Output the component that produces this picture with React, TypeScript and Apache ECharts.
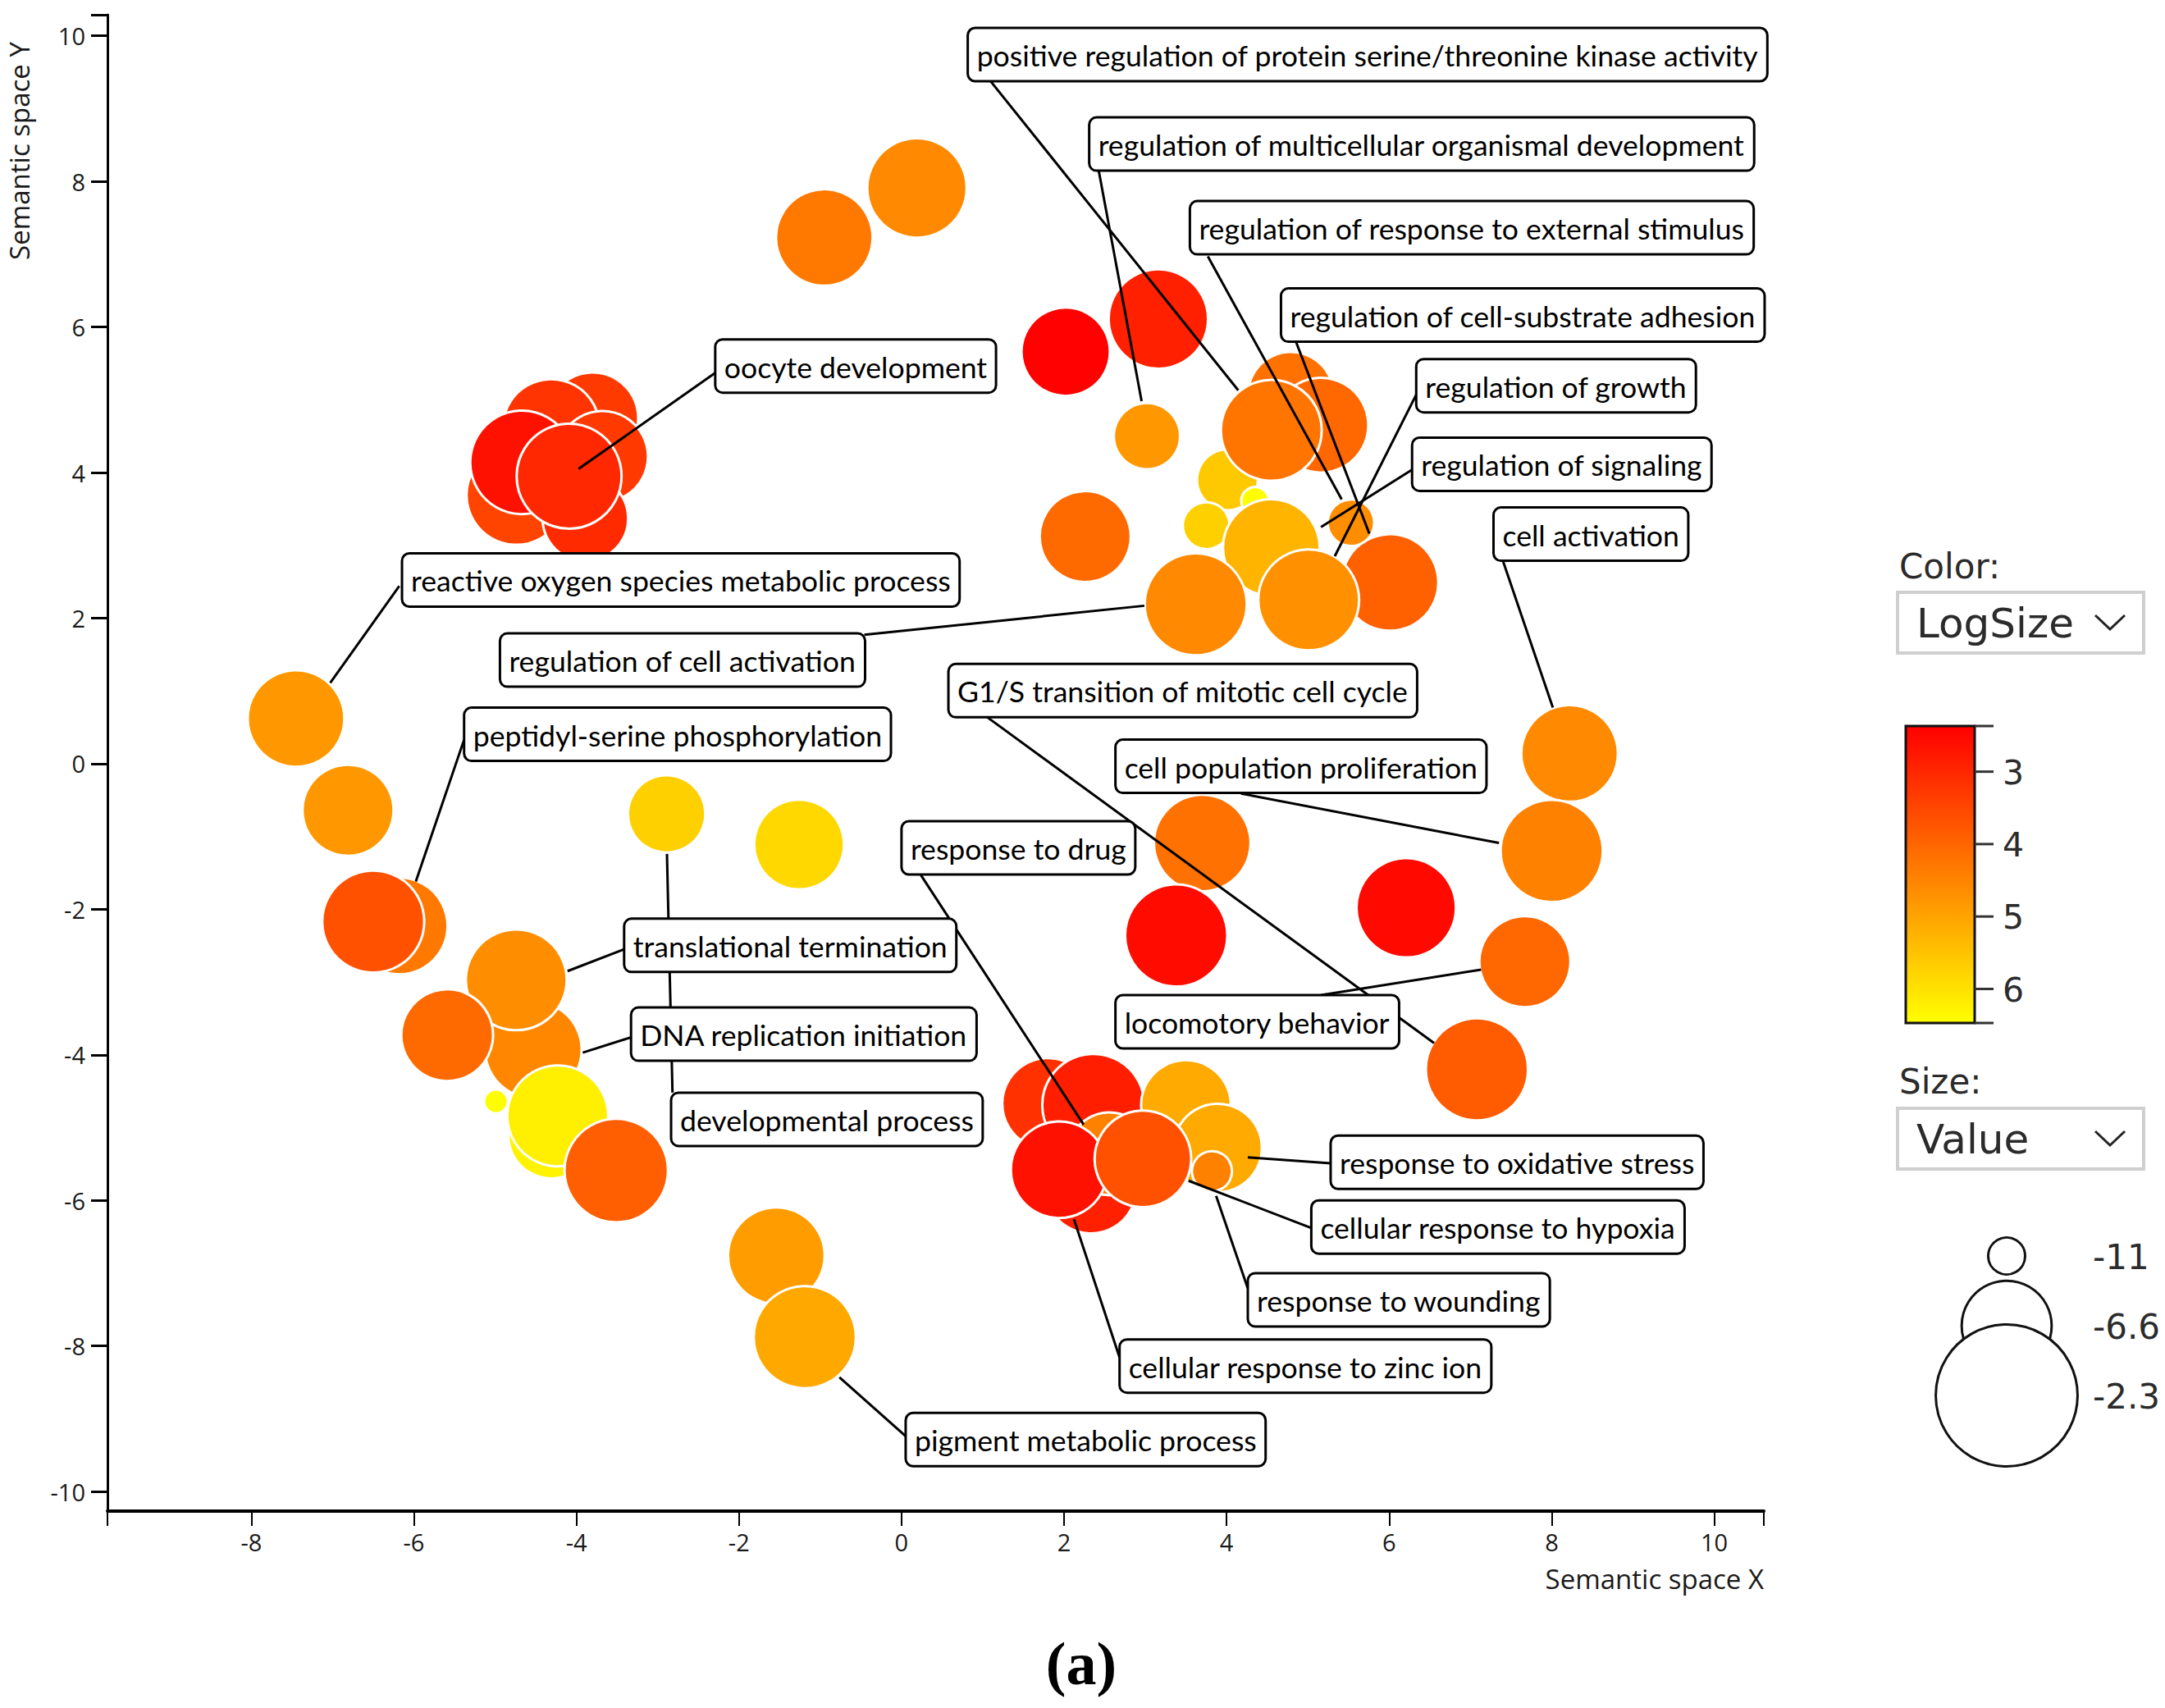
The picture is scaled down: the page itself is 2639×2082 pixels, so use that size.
import React, { useEffect, useRef } from "react";
import * as echarts from "echarts";

// ---- bubble data (semantic space X/Y, Value = size, LogSize = color) ----
const goX = [
  -0.95, 0.19, 2.02, 3.16, 3.02, 2.26,
  4.79, 5.16, 4.01, 4.35, 3.75, 4.55, 4.55, 6.01, 5.53, 3.62, 5.01,
  -3.8, -4.31, -3.68, -4.74, -3.89, -4.67, -4.09,
  -7.45, -6.81, -6.18, -6.5, -4.53, -4.74, -5.59, -4.31, -4.99, -4.23, -3.51, -2.89, -1.26, -1.54, -1.19,
  2.33, 1.8, 2.36, 3.5, 3.89, 2.56, 3.82, 1.94, 2.97,
  8.22, 8.0, 7.67, 7.08, 6.21, 3.7, 3.38,
];
const goY = [
  7.23, 7.91, 5.66, 6.11, 4.5, 3.12,
  5.07, 4.65, 3.9, 3.61, 3.27, 4.58, 2.97, 2.49, 3.31, 2.19, 2.25,
  4.75, 4.62, 4.22, 3.69, 3.37, 4.14, 3.95,
  0.62, -0.64, -2.23, -2.17, -3.93, -2.97, -3.73, -5.11, -4.64, -4.84, -5.59, -0.69, -1.11, -6.76, -7.88,
  -5.83, -4.67, -4.69, -4.69, -5.28, -5.36, -5.6, -5.58, -5.43,
  0.14, -1.2, -2.72, -4.2, -1.98, -1.09, -2.36,
];
const goValue = [
  -6.05, -5.82, -6.73, -5.82, -8.57, -6.51,
  -6.96, -6.2, -9.02, -11.77, -10.17, -5.7, -6.05, -6.05, -10.2, -5.6, -5.7,
  -6.51, -6.05, -6.51, -5.82, -6.96, -5.48, -5.36,
  -6.05, -6.51, -6.05, -5.6, -6.05, -5.7, -6.45, -6.96, -12.09, -5.7, -5.48, -7.65, -6.62, -6.05, -5.59,
  -6.51, -6.51, -5.59, -6.62, -6.73, -7.19, -10.74, -6.05, -6.05,
  -6.05, -5.59, -6.51, -5.59, -5.82, -6.05, -5.59,
];
const goLogSize = [
  4.31, 4.57, 2.4, 2.89, 4.82, 4.08,
  4.18, 4.02, 5.6, 6.45, 5.72, 4.25, 5.27, 3.92, 4.63, 4.57, 4.7,
  3.31, 3.2, 3.28, 3.47, 3.05, 2.64, 3.02,
  4.82, 4.79, 4.31, 3.67, 4.54, 4.63, 4.08, 6.27, 6.45, 6.21, 3.89, 5.72, 5.85, 4.89, 5.08,
  2.89, 3.15, 2.86, 5.11, 5.11, 4.44, 4.44, 2.64, 3.67,
  4.57, 4.44, 4.02, 3.83, 2.51, 4.18, 2.54,
];

// ---- axes / legend ticks ----
const xTicks = [-8, -6, -4, -2, 0, 2, 4, 6, 8, 10];
const yTicks = [-10, -8, -6, -4, -2, 0, 2, 4, 6, 8, 10];
const xRange = [-9.77, 10.61];
const yRange = [-10.27, 10.29];
const colorTicks = [3, 4, 5, 6];
const colorRange = [2.37, 6.47];
const sizeLegendValues = [-11, -6.6, -2.3];

// ---- annotation labels ----
const labelText = [
  "positive regulation of protein serine/threonine kinase activity",
  "regulation of multicellular organismal development",
  "regulation of response to external stimulus",
  "regulation of cell-substrate adhesion",
  "regulation of growth",
  "regulation of signaling",
  "cell activation",
  "oocyte development",
  "reactive oxygen species metabolic process",
  "regulation of cell activation",
  "G1/S transition of mitotic cell cycle",
  "peptidyl-serine phosphorylation",
  "cell population proliferation",
  "response to drug",
  "translational termination",
  "DNA replication initiation",
  "developmental process",
  "locomotory behavior",
  "response to oxidative stress",
  "cellular response to hypoxia",
  "response to wounding",
  "cellular response to zinc ion",
  "pigment metabolic process",
];
// layout: box top-left corner, leader line start and end (in semantic space)
const labelLayout = [
  [0.815, 10.11, 1.087, 9.39, 4.143, 5.13],
  [2.309, 8.88, 2.428, 8.14, 2.954, 4.98],
  [3.548, 7.73, 3.769, 6.97, 5.416, 3.63],
  [4.669, 6.53, 4.856, 5.79, 5.756, 3.16],
  [6.333, 5.56, 6.333, 5.07, 5.331, 2.85],
  [6.282, 4.48, 6.299, 4.05, 5.161, 3.25],
  [7.284, 3.52, 7.402, 2.78, 8.014, 0.77],
  [-2.292, 5.83, -2.292, 5.37, -3.973, 4.05],
  [-6.146, 2.89, -6.18, 2.44, -7.029, 1.11],
  [-4.941, 1.79, -0.458, 1.77, 2.988, 2.17],
  [0.577, 1.37, 1.053, 0.64, 6.553, -3.84],
  [-5.382, 0.77, -5.382, 0.33, -5.976, -1.62],
  [2.632, 0.33, 4.177, -0.41, 7.351, -1.09],
  [0.0, -0.79, 0.238, -1.53, 2.241, -4.96],
  [-3.413, -2.13, -3.413, -2.55, -4.109, -2.85],
  [-3.328, -3.35, -3.328, -3.76, -3.922, -3.97],
  [-2.835, -4.52, -2.818, -4.52, -2.886, -1.24],
  [2.632, -3.18, 5.161, -3.18, 7.131, -2.83],
  [5.28, -5.11, 5.28, -5.49, 4.261, -5.41],
  [5.042, -6.0, 5.042, -6.38, 3.531, -5.73],
  [4.261, -7.0, 4.261, -7.21, 3.871, -5.94],
  [2.683, -7.91, 2.683, -8.16, 2.122, -6.26],
  [0.051, -8.92, 0.051, -9.24, -0.764, -8.43],
];

const sizeOf = (v: number) => 45 + (v + 11) * 14.7;
const LABEL_FONT = "Lato";
const AXIS_FONT = "Open Sans";
const LEGEND_FONT = "DejaVu Sans";

function measure(text: string, font: string) {
  const c = document.createElement("canvas").getContext("2d")!;
  c.font = font;
  return c.measureText(text).width;
}

export default function App() {
  const ref = useRef<HTMLDivElement>(null);
  useEffect(() => {
    const chart = echarts.init(ref.current!, null, { renderer: "svg" });
    const data = goX.map((x, i) => [x, goY[i], goValue[i], goLogSize[i]]);
    const gridLeft = 131, gridTop = 18, gridW = 2019, gridH = 1824;
    chart.setOption({
      animation: false,
      backgroundColor: "#fff",
      grid: { left: gridLeft, top: gridTop, width: gridW, height: gridH },
      xAxis: {
        type: "value",
        min: xRange[0],
        max: xRange[1],
        splitLine: { show: false },
        axisLine: { show: true, onZero: false, lineStyle: { color: "#000", width: 4 } },
        axisTick: {
          show: true,
          customValues: [xRange[0], ...xTicks, xRange[1]],
          length: 18,
          lineStyle: { color: "#000", width: 2 },
        },
        axisLabel: {
          customValues: xTicks,
          fontSize: 29,
          fontFamily: AXIS_FONT,
          color: "#1a1a1a",
          margin: 23,
        },
      },
      yAxis: {
        type: "value",
        min: yRange[0],
        max: yRange[1],
        splitLine: { show: false },
        axisLine: { show: true, onZero: false, lineStyle: { color: "#000", width: 3 } },
        axisTick: {
          show: true,
          customValues: [...yTicks, yRange[1]],
          length: 20,
          lineStyle: { color: "#000", width: 3 },
        },
        axisLabel: {
          customValues: yTicks,
          fontSize: 29,
          fontFamily: AXIS_FONT,
          color: "#1a1a1a",
          margin: 27,
        },
      },
      visualMap: {
        show: false,
        type: "continuous",
        dimension: 3,
        min: colorRange[0],
        max: colorRange[1],
        inRange: { color: ["#ff0000", "#ffff00"] },
        seriesIndex: 0,
      },
      series: [
        {
          type: "scatter",
          data,
          symbol: "circle",
          symbolSize: (d: number[]) => sizeOf(d[2]),
          itemStyle: { borderColor: "#fff", borderWidth: 3, opacity: 1 },
          z: 2,
        },
      ],
    });

    const toPx = (x: number, y: number) =>
      chart.convertToPixel({ gridIndex: 0 } as any, [x, y]) as number[];

    const longest = labelText[0];
    const labelFontSize = (953 / measure(longest, `100px ${LABEL_FONT}`)) * 100;
    const boxH = 65;
    const padX = 11;

    const g: any[] = [];
    // leader lines
    labelLayout.forEach((l) => {
      const a = toPx(l[2], l[3]);
      const b = toPx(l[4], l[5]);
      g.push({
        type: "line",
        shape: { x1: a[0], y1: a[1], x2: b[0], y2: b[1] },
        style: { stroke: "#000", lineWidth: 3 },
        z: 100,
      });
    });
    // boxes and texts
    labelLayout.forEach((l, i) => {
      const p = toPx(l[0], l[1]);
      const w = measure(labelText[i], `${labelFontSize}px ${LABEL_FONT}`) + padX * 2;
      g.push({
        type: "rect",
        shape: { x: p[0], y: p[1], width: w, height: boxH, r: 9 },
        style: { fill: "#fff", stroke: "#000", lineWidth: 3 },
        z: 101,
      });
      g.push({
        type: "text",
        x: p[0] + padX,
        y: p[1] + boxH / 2 + 1,
        style: {
          text: labelText[i],
          fontSize: labelFontSize,
          fontFamily: LABEL_FONT,
          fill: "#000",
          align: "left",
          verticalAlign: "middle",
        },
        z: 102,
      });
    });

    // axis names
    g.push({
      type: "text",
      x: 23,
      y: 184,
      rotation: Math.PI / 2,
      style: {
        text: "Semantic space Y",
        fontSize: 33,
        fontFamily: AXIS_FONT,
        fill: "#1a1a1a",
        align: "center",
        verticalAlign: "middle",
      },
      z: 50,
    });
    g.push({
      type: "text",
      x: gridLeft + gridW,
      y: 1924,
      style: {
        text: "Semantic space X",
        fontSize: 33,
        fontFamily: AXIS_FONT,
        fill: "#1a1a1a",
        align: "right",
        verticalAlign: "middle",
      },
      z: 50,
    });

    // ---- legend ----
    const legendText = (text: string, x: number, y: number, size: number) => ({
      type: "text",
      x,
      y,
      style: { text, fontSize: size, fontFamily: LEGEND_FONT, fill: "#2b2b2b", align: "left", verticalAlign: "middle" },
      z: 60,
    });
    const dropdown = (text: string, top: number) => [
      {
        type: "rect",
        shape: { x: 2313, y: top, width: 300, height: 74 },
        style: { fill: "#fff", stroke: "#cfcfcf", lineWidth: 4 },
        z: 55,
      },
      legendText(text, 2336, top + 38, 50),
      {
        type: "polyline",
        shape: { points: [[2554, top + 28], [2572, top + 45], [2590, top + 28]] },
        style: { stroke: "#222", lineWidth: 3, fill: null },
        z: 60,
      },
    ];
    g.push(legendText("Color:", 2315, 690, 42));
    g.push(...dropdown("LogSize", 722));

    const barX = 2323, barTop = 885, barW = 84, barH = 362;
    g.push({
      type: "rect",
      shape: { x: barX, y: barTop, width: barW, height: barH },
      style: {
        fill: new echarts.graphic.LinearGradient(0, 0, 0, 1, [
          { offset: 0, color: "#ff0000" },
          { offset: 1, color: "#ffff00" },
        ]),
        stroke: "#111",
        lineWidth: 3,
      },
      z: 55,
    });
    const cy = (v: number) => barTop + ((v - colorRange[0]) / (colorRange[1] - colorRange[0])) * barH;
    [colorRange[0], ...colorTicks, colorRange[1]].forEach((v) => {
      const y = cy(v);
      g.push({
        type: "line",
        shape: { x1: barX + barW, y1: y, x2: barX + barW + 23, y2: y },
        style: { stroke: "#333", lineWidth: 3 },
        z: 56,
      });
    });
    colorTicks.forEach((v) => g.push(legendText(String(v), 2441, cy(v) + 1, 41)));

    g.push(legendText("Size:", 2315, 1318, 42));
    g.push(...dropdown("Value", 1351));

    const circleY = [1531, 1616, 1701];
    sizeLegendValues.forEach((v, i) => {
      g.push({
        type: "circle",
        shape: { cx: 2446, cy: circleY[i], r: sizeOf(v) / 2 },
        style: { fill: "#fff", stroke: "#111", lineWidth: 3 },
        z: 57 + i,
      });
      g.push(legendText(String(v), 2551, circleY[i] + 1, 42));
    });

    g.push({
      type: "text",
      x: 1318,
      y: 2028,
      style: {
        text: "(a)",
        fontSize: 74,
        fontWeight: "bold",
        fontFamily: "Liberation Serif",
        fill: "#000",
        align: "center",
        verticalAlign: "middle",
      },
      z: 60,
    });

    chart.setOption({ graphic: g });
    return () => chart.dispose();
  }, []);
  return (
    <div
      ref={ref}
      style={{ position: "fixed", left: 0, top: 0, width: 2639, height: 2082, background: "#fff" }}
    />
  );
}
